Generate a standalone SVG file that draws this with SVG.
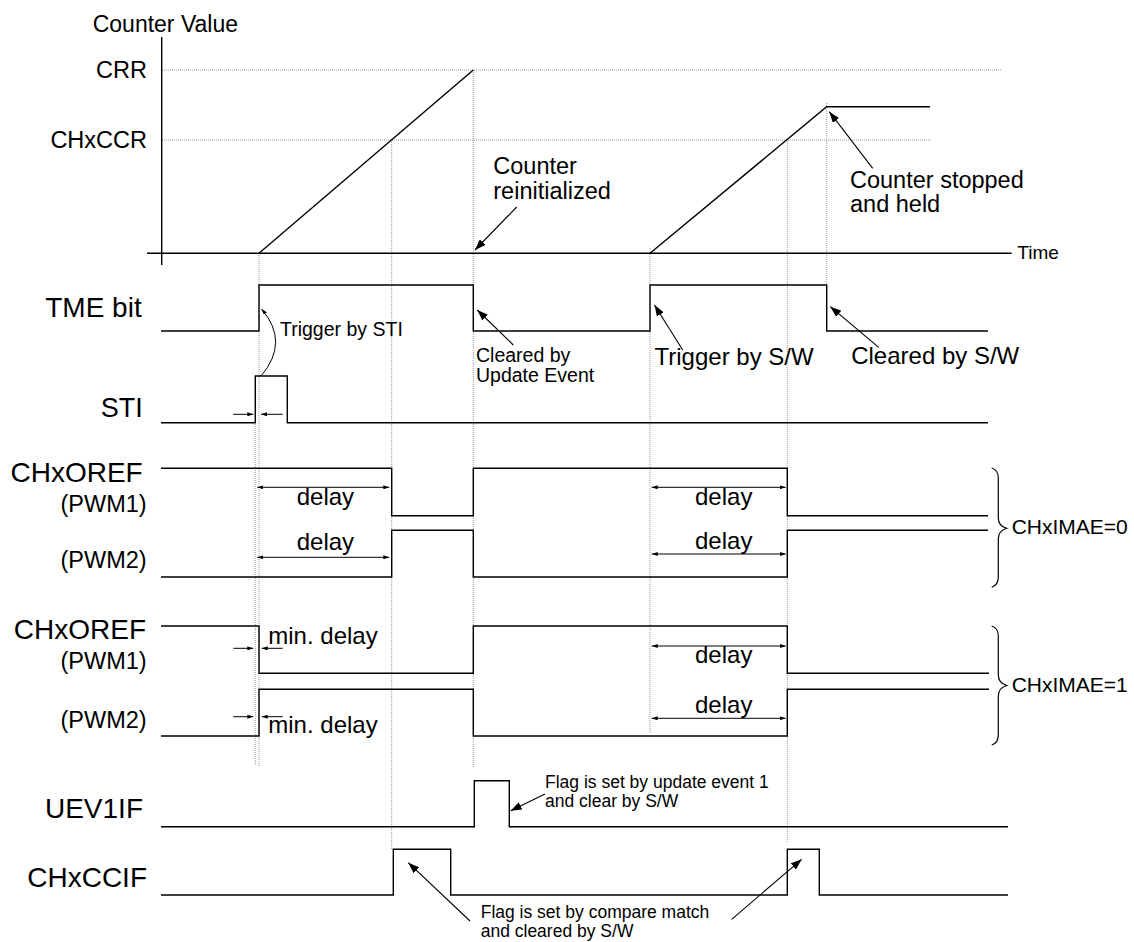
<svg xmlns="http://www.w3.org/2000/svg" width="1134" height="942" viewBox="0 0 1134 942">
<style>
text{font-family:"Liberation Sans",Arial,sans-serif;fill:#000}
.sig{fill:none;stroke:#000;stroke-width:1.4}
.ax{fill:none;stroke:#000;stroke-width:1.4}
.dot{fill:none;stroke:#999;stroke-width:1;stroke-dasharray:1 1}
.arw{fill:none;stroke:#000;stroke-width:1.1;marker-end:url(#ah)}
.dl{fill:none;stroke:#000;stroke-width:1;marker-start:url(#sa);marker-end:url(#sa)}
.md{fill:none;stroke:#000;stroke-width:1;marker-end:url(#sa)}
.br{fill:none;stroke:#000;stroke-width:1.2}
.lg{font-size:28px}
.md24{font-size:24px}
.two{font-size:23.5px}
.sm{font-size:19.5px}
.fl{font-size:17.5px}
.end{text-anchor:end}
</style>
<defs>
<marker id="ah" viewBox="0 0 11 8" refX="11" refY="4" markerWidth="11" markerHeight="8" markerUnits="userSpaceOnUse" orient="auto"><path d="M0,0 L11,4 L0,8 z" fill="#000"/></marker>
<marker id="sa" viewBox="0 0 6 4" refX="6" refY="2" markerWidth="6" markerHeight="4" markerUnits="userSpaceOnUse" orient="auto-start-reverse"><path d="M0,0 L6,2 L0,4 z" fill="#000"/></marker>
</defs>
<rect width="1134" height="942" fill="#fff"/>

<g id="gridlines">
<line class="dot" x1="162" y1="70" x2="1001" y2="70"/>
<line class="dot" x1="162" y1="140" x2="932" y2="140"/>
<line class="dot" x1="255.3" y1="376" x2="255.3" y2="765"/>
<line class="dot" x1="259" y1="253" x2="259" y2="767"/>
<line class="dot" x1="391.7" y1="140" x2="391.7" y2="849"/>
<line class="dot" x1="473.3" y1="70" x2="473.3" y2="768"/>
<line class="dot" x1="650" y1="248" x2="650" y2="733"/>
<line class="dot" x1="787.3" y1="139" x2="787.3" y2="842"/>
<line class="dot" x1="826.7" y1="103" x2="826.7" y2="285"/>
</g>

<g id="counter-graph">
<line class="ax" x1="161.7" y1="37" x2="161.7" y2="265"/>
<line class="ax" x1="147" y1="253.3" x2="1011.7" y2="253.3"/>
<path class="sig" d="M259,253.3 L473.3,70"/>
<path class="sig" d="M650,253.3 L826.7,106.7 H930"/>
<text x="92.7" y="31.7" style="font-size:23px">Counter Value</text>
<text x="147" y="78" class="end" style="font-size:23.5px">CRR</text>
<text x="147" y="148" class="end" style="font-size:23.5px">CHxCCR</text>
<text x="1017.3" y="259.3" style="font-size:19px">Time</text>
<text class="two"><tspan x="493.3" y="174.3">Counter</tspan><tspan x="493.3" y="199">reinitialized</tspan></text>
<text class="two"><tspan x="850" y="187.5">Counter stopped</tspan><tspan x="850" y="212.2">and held</tspan></text>
</g>

<g id="tme">
<text x="141.7" y="317.3" class="lg end">TME bit</text>
<path class="sig" d="M161,331 H259 V285 H473.3 V331 H650 V285 H826.7 V331 H988"/>
<text x="280" y="336" class="sm">Trigger by STI</text>
<text class="sm"><tspan x="476" y="361.7">Cleared by</tspan><tspan x="476" y="381.7">Update Event</tspan></text>
<text x="654.5" y="365" class="md24">Trigger by S/W</text>
<text x="851.2" y="364" class="md24">Cleared by S/W</text>
</g>

<g id="sti">
<text x="142.7" y="416.7" class="end" style="font-size:27px">STI</text>
<path class="sig" d="M161,422.7 H255.3 V376 H287.3 V422.7 H988"/>
</g>

<g id="oref-imae0">
<text x="142.7" y="481.7" class="lg end">CHxOREF</text>
<text x="146.7" y="512.3" class="end" style="font-size:23.5px">(PWM1)</text>
<text x="146.7" y="568.3" class="end" style="font-size:23.5px">(PWM2)</text>
<path class="sig" d="M161,468.3 H391.7 V515.7 H473.3 V468.3 H787.3 V515.7 H988"/>
<path class="sig" d="M161,577 H391.7 V530.3 H473.3 V577 H787.3 V530.3 H988"/>
<text x="296.7" y="505" class="md24">delay</text>
<text x="296.7" y="550" class="md24">delay</text>
<text x="695" y="505" class="md24">delay</text>
<text x="695" y="549.3" class="md24">delay</text>
<path class="br" d="M991.7,468 Q998.3,470 998.3,478 V518 Q998.3,526 1006.7,528.3 Q998.3,531 998.3,539 V577 Q998.3,585 991.7,587.3"/>
<text x="1011.7" y="534" style="font-size:21px">CHxIMAE=0</text>
</g>

<g id="oref-imae1">
<text x="146" y="639" class="lg end">CHxOREF</text>
<text x="146.7" y="669.3" class="end" style="font-size:23.5px">(PWM1)</text>
<text x="146.7" y="727.7" class="end" style="font-size:23.5px">(PWM2)</text>
<path class="sig" d="M161,626 H259 V673.3 H473.3 V626 H787.3 V673.3 H989"/>
<path class="sig" d="M161,736 H259 V689.3 H473.3 V736 H787.3 V689.3 H989"/>
<text x="268.3" y="644" class="md24">min. delay</text>
<text x="268.3" y="733.3" class="md24">min. delay</text>
<text x="695" y="663.3" class="md24">delay</text>
<text x="695" y="712.7" class="md24">delay</text>
<path class="br" d="M991.7,626 Q998.3,628 998.3,636 V675 Q998.3,683 1006.7,685.5 Q998.3,688 998.3,696 V735 Q998.3,743 991.7,745"/>
<text x="1011.7" y="691.7" style="font-size:21px">CHxIMAE=1</text>
</g>

<g id="uev1if">
<text x="143" y="818" class="lg end">UEV1IF</text>
<path class="sig" d="M161,826.7 H474.3 V780.7 H509.3 V826.7 H1008"/>
<text class="fl"><tspan x="545" y="788.3">Flag is set by update event 1</tspan><tspan x="545" y="806.7">and clear by S/W</tspan></text>
</g>

<g id="chxccif">
<text x="147" y="887" class="lg end">CHxCCIF</text>
<path class="sig" d="M161,895 H393.3 V849.3 H450.7 V895 H787.3 V849.3 H819.3 V895 H1008"/>
<text class="fl"><tspan x="480.7" y="918.3">Flag is set by compare match</tspan><tspan x="480.7" y="936.7">and cleared by S/W</tspan></text>
</g>

<g id="connectors">
<line class="arw" x1="516.7" y1="207" x2="475" y2="250"/>
<line class="arw" x1="872.7" y1="168.3" x2="829.3" y2="111.7"/>
<line class="arw" x1="513.3" y1="345" x2="477.3" y2="310"/>
<line class="arw" x1="682.7" y1="350" x2="654.5" y2="305"/>
<line class="arw" x1="878.7" y1="347.3" x2="830.3" y2="306.7"/>
<line class="arw" x1="545" y1="794" x2="510.7" y2="810.7"/>
<line class="arw" x1="470" y1="921" x2="408.3" y2="862.7"/>
<line class="arw" x1="731.7" y1="919.3" x2="801.7" y2="859.3"/>
<path fill="none" stroke="#000" stroke-width="1" marker-end="url(#sa)" d="M261,376 Q290,342 261.5,309"/>
<line class="md" x1="233.3" y1="414.3" x2="253.3" y2="414.3"/>
<line class="md" x1="282.7" y1="414.3" x2="261" y2="414.3"/>
<line class="dl" x1="257.3" y1="487.3" x2="389.3" y2="487.3"/>
<line class="dl" x1="257.3" y1="557.3" x2="389.3" y2="557.3"/>
<line class="dl" x1="651.7" y1="487.3" x2="785.7" y2="487.3"/>
<line class="dl" x1="651.7" y1="554" x2="785.7" y2="554"/>
<line class="dl" x1="651.7" y1="646" x2="785.7" y2="646"/>
<line class="dl" x1="651.7" y1="718.3" x2="785.7" y2="718.3"/>
<line class="md" x1="233.3" y1="648.3" x2="253.3" y2="648.3"/>
<line class="md" x1="282.7" y1="648.3" x2="261.7" y2="648.3"/>
<line class="md" x1="233.3" y1="716.7" x2="253.3" y2="716.7"/>
<line class="md" x1="282.7" y1="716.7" x2="261.7" y2="716.7"/>
</g>
</svg>
